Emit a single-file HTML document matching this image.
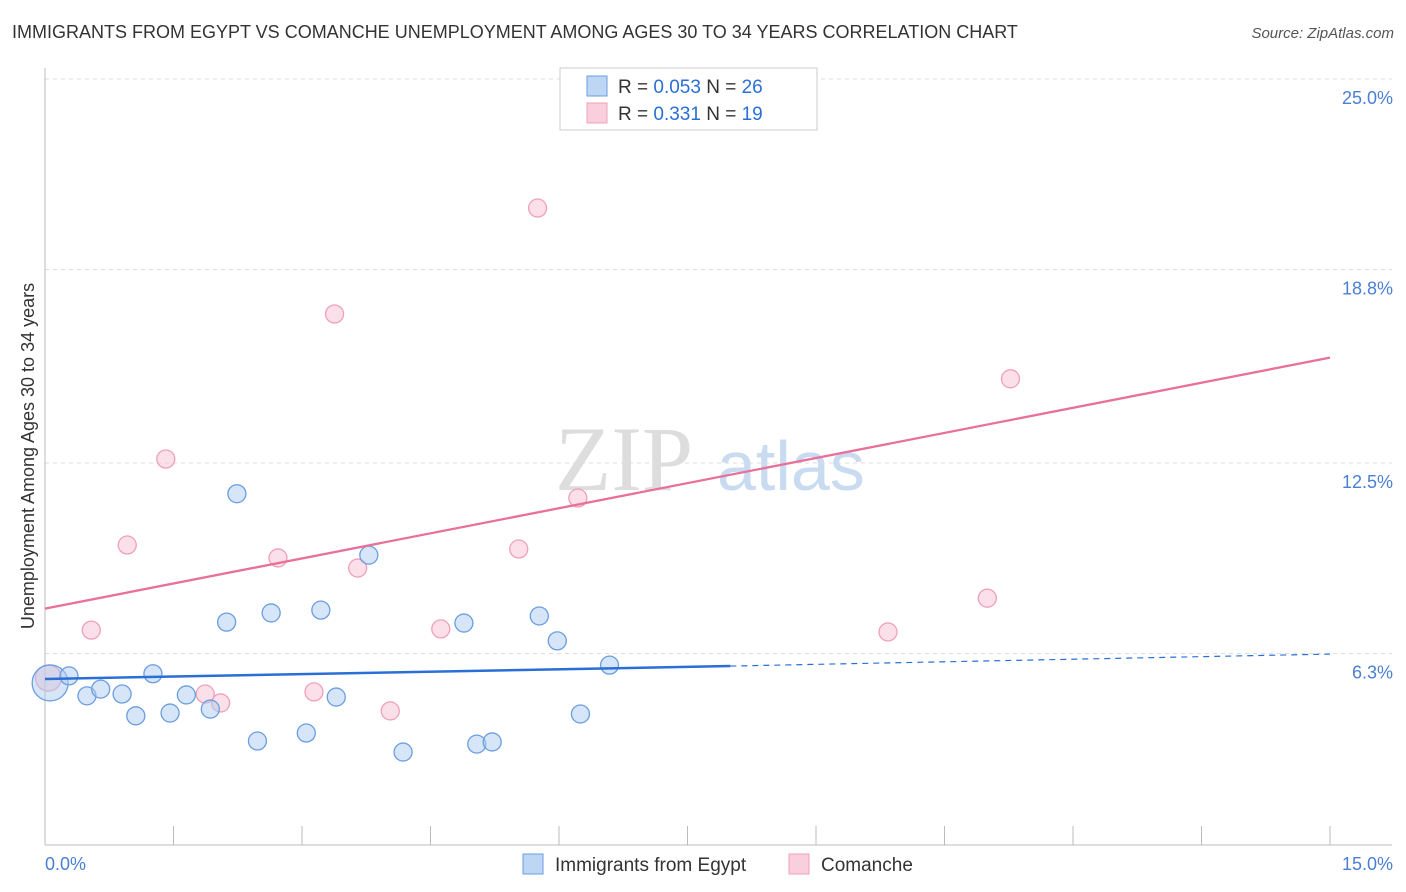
<!DOCTYPE html>
<html><head><meta charset="utf-8">
<style>
body{margin:0;background:#fff;font-family:"Liberation Sans",sans-serif;}
#wrap{position:relative;width:1406px;height:892px;overflow:hidden;}
.title{position:absolute;left:12px;top:22px;font-size:18px;color:#333;}
.source{position:absolute;right:12px;top:25px;font-size:15px;color:#555;font-style:italic;}
</style></head><body>
<div id="wrap">
<div class="title">IMMIGRANTS FROM EGYPT VS COMANCHE UNEMPLOYMENT AMONG AGES 30 TO 34 YEARS CORRELATION CHART</div>
<div class="source">Source: ZipAtlas.com</div>
<svg id="chart" width="1406" height="892" style="position:absolute;left:0;top:0"></svg>
</div>
<script>
const xTicksPct=[0,15];
const yTicks=[6.3,12.5,18.8,25.0];
const egyptX=[0.06,0.28,0.49,0.65,0.90,1.06,1.26,1.46,1.65,1.93,2.12,2.24,2.48,2.64,3.05,3.22,3.40,3.78,4.18,4.89,5.04,5.22,5.77,5.98,6.25,6.59];
const egyptY=[5.34,5.57,4.92,5.14,4.98,4.27,5.64,4.36,4.95,4.49,7.32,11.50,3.45,7.62,3.71,7.71,4.88,9.50,3.09,7.29,3.35,3.42,7.52,6.71,4.33,5.92];
const egyptR=[18,9,9,9,9,9,9,9,9,9,9,9,9,9,9,9,9,9,9,9,9,9,9,9,9,9];
const comX=[0.04,0.54,0.96,1.41,1.87,2.05,2.72,3.14,3.38,3.65,4.03,4.62,5.53,5.75,6.22,7.14,9.84,11.00,11.27];
const comY=[5.50,7.06,9.83,12.63,4.98,4.69,9.41,5.05,17.35,9.08,4.43,7.10,9.70,20.80,11.36,23.90,7.00,8.10,15.24];
const comR=[13,9,9,9,9,9,9,9,9,9,9,9,9,9,9,9,9,9,9];
const egyptLine=[[0,5.47],[8.0,5.89],[15,6.28]];
const comLine=[[0,7.76],[15,15.93]];

const L=45,R=1330,T=79,B=847;
const sx=v=>L+(v/15)*(R-L);
const sy=v=>B-(v/25)*(B-T);
const svg=document.getElementById('chart');
const NS='http://www.w3.org/2000/svg';
function mk(tag,attrs){const e=document.createElementNS(NS,tag);for(const k in attrs)e.setAttribute(k,attrs[k]);svg.appendChild(e);return e;}

// watermark
let wm=mk('text',{x:555,y:490,'font-size':92,'font-family':'Liberation Serif',fill:'#ddd'});wm.textContent='ZIP';


let wm2=mk('text',{x:717,y:490,'font-size':70,'font-family':'Liberation Sans',fill:'#c9dbf0'});wm2.textContent='atlas';



// gridlines + y labels
yTicks.forEach(t=>{
  const y=sy(t);
  const g=mk('line',{x1:L,x2:1392,y1:y,y2:y,stroke:'#ddd','stroke-dasharray':'4,4'});
  
  
  const tx=mk('text',{x:1393,y:y+25,'text-anchor':'end','font-size':18,fill:'#4a7fd4'});
  tx.textContent=t.toFixed(1)+'%';
  
  
});
// axes
let ax=mk('line',{x1:L,x2:L,y1:68,y2:845,stroke:'#bbb'});


let axx=mk('line',{x1:L,x2:1392,y1:845,y2:845,stroke:'#bbb'});


for(let i=0;i<=10;i++){
  const x=sx(i*1.5);
  const tk=mk('line',{x1:x,x2:x,y1:826,y2:845,stroke:'#bbb'});
  
  
}
xTicksPct.forEach((t,i)=>{
  const tx=mk('text',{x:i?1393:45,y:870,'text-anchor':i?'end':'start','font-size':18,fill:'#4a7fd4'});
  tx.textContent=t.toFixed(1)+'%';
  
  
});
let yt=mk('text',{x:34,y:456,'text-anchor':'middle','font-size':18,fill:'#333',transform:'rotate(-90 34 456)'});
yt.textContent='Unemployment Among Ages 30 to 34 years';



// points
comX.forEach((v,i)=>{
  const c=mk('circle',{cx:sx(v),cy:sy(comY[i]),r:comR[i],fill:'rgba(248,187,206,0.45)',stroke:'#f0a0b8','stroke-width':1.3});
  
  
});
egyptX.forEach((v,i)=>{
  const c=mk('circle',{cx:sx(v),cy:sy(egyptY[i]),r:egyptR[i],fill:'rgba(173,204,240,0.5)',stroke:'#6a9ee0','stroke-width':1.3});
  
  
});
// trend lines
let el1=mk('line',{x1:sx(egyptLine[0][0]),y1:sy(egyptLine[0][1]),x2:sx(egyptLine[1][0]),y2:sy(egyptLine[1][1]),stroke:'#2a6fd6','stroke-width':2.5});


let el2=mk('line',{x1:sx(egyptLine[1][0]),y1:sy(egyptLine[1][1]),x2:sx(egyptLine[2][0]),y2:sy(egyptLine[2][1]),stroke:'#2a6fd6','stroke-width':1.2,'stroke-dasharray':'6,5'});


let cl=mk('line',{x1:sx(comLine[0][0]),y1:sy(comLine[0][1]),x2:sx(comLine[1][0]),y2:sy(comLine[1][1]),stroke:'#e8709a','stroke-width':2.3});



// legend box
let lb=mk('rect',{x:560,y:68,width:257,height:62,fill:'#fff',stroke:'#ccc'});


[['0.053','26','rgba(173,204,240,0.8)','#6a9ee0',86],['0.331','19','rgba(248,187,206,0.7)','#f0a0b8',113]].forEach((r,i)=>{
  const sq=mk('rect',{x:587,y:r[4]-10,width:20,height:20,fill:r[2],stroke:r[3]});
  
  
  const t=mk('text',{x:618,y:r[4]+7,'font-size':19,fill:'#333'});
  t.innerHTML='R = <tspan fill="#2a6fd6">'+(i?' ':'')+r[0]+'</tspan>   N =  <tspan fill="#2a6fd6">'+r[1]+'</tspan>';
  t.setAttribute('xml:space','preserve');
  
  
});
// bottom legend
[['Immigrants from Egypt',523,'rgba(173,204,240,0.8)','#6a9ee0'],['Comanche',789,'rgba(248,187,206,0.7)','#f0a0b8']].forEach(r=>{
  const sq=mk('rect',{x:r[1],y:854,width:20,height:20,fill:r[2],stroke:r[3]});
  
  
  const t=mk('text',{x:r[1]+32,y:871,'font-size':19,fill:'#333'});
  t.textContent=r[0];
  
  
});
</script>
</body></html>
